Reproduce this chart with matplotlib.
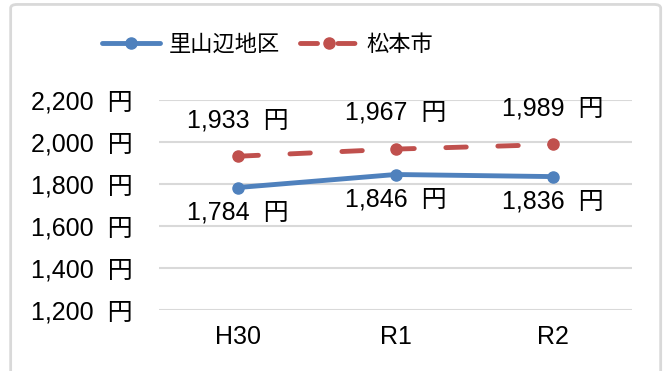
import matplotlib.pyplot as plt
from matplotlib.lines import Line2D
from matplotlib.patches import FancyBboxPatch
from matplotlib.ticker import FuncFormatter

plt.rcParams['font.family'] = ['Liberation Sans', 'Noto Sans CJK JP']

years = ['H30', 'R1', 'R2']
satoyama = [1784, 1846, 1836]
matsumoto = [1933, 1967, 1989]
yticks = [1200, 1400, 1600, 1800, 2000, 2200]

blue = '#4F81BD'
red = '#C0504D'
fs = 18

fig = plt.figure(figsize=(6.66, 3.71), dpi=100)
ax = fig.add_axes([0.239, 0.164, 0.71, 0.566])

# outer chart frame
fig.patches.append(FancyBboxPatch((0.016, -0.05), 0.976, 1.038, transform=fig.transFigure,
                                  boxstyle='round,pad=0,rounding_size=0.01',
                                  fc='none', ec='#D9D9D9', lw=2))

x = range(len(years))
ax.plot(x, satoyama, color=blue, lw=3.5, marker='o', ms=8,
        solid_capstyle='round', zorder=3)
ax.plot(x, matsumoto, color=red, lw=3.5, marker='o', ms=8,
        dashes=(4.2, 6.5), dash_capstyle='round', zorder=3)

for i, v in enumerate(satoyama):
    ax.annotate(f'{v:,}  円', (i, v), xytext=(0, -18), textcoords='offset points',
                ha='center', va='center', fontsize=fs)
for i, v in enumerate(matsumoto):
    ax.annotate(f'{v:,}  円', (i, v), xytext=(0, 26), textcoords='offset points',
                ha='center', va='center', fontsize=fs)

ax.set_xlim(-0.5, 2.5)
ax.set_ylim(1200, 2200)
ax.set_yticks(yticks)
ax.yaxis.set_major_formatter(FuncFormatter(lambda v, p: f'{int(v):,}  円'))
ax.set_xticks(list(x))
ax.set_xticklabels(years)
ax.tick_params(length=0, labelsize=fs, colors='black')
ax.tick_params(axis='y', pad=19)
ax.tick_params(axis='x', pad=11)
ax.grid(axis='y', color='#D9D9D9', lw=1.5)
ax.set_axisbelow(True)
for s in ax.spines.values():
    s.set_visible(False)

handles = [
    Line2D([], [], color=blue, lw=3.5, marker='o', ms=8, solid_capstyle='round'),
    Line2D([], [], color=red, lw=3.5, marker='o', ms=8, dashes=(3.5, 4.2),
           dash_capstyle='round'),
]
fig.legend(handles, ['里山辺地区', '松本市'], loc='center', bbox_to_anchor=(0.402, 0.878),
           ncol=2, frameon=False, fontsize=16, handlelength=2.6, columnspacing=0.9,
           handletextpad=0.4)

fig.savefig('out.png', dpi=100)
